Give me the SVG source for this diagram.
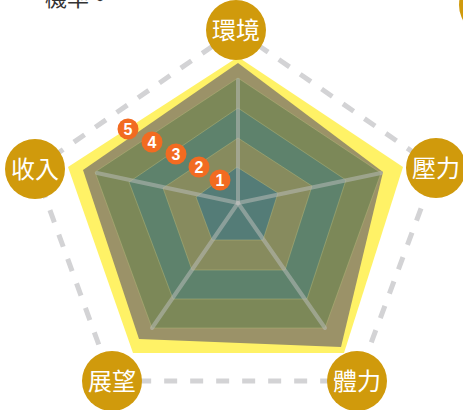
<svg xmlns="http://www.w3.org/2000/svg" width="463" height="410" viewBox="0 0 463 410">
<style>
.lbl{fill:#D09A0C}
.lt{fill:#fff;font-family:"Noto Sans CJK TC","Noto Sans CJK SC",sans-serif;font-size:24px;text-anchor:middle}
.badge{fill:#F26B21}
.bt{fill:#fff;font-family:"Liberation Sans",Arial,sans-serif;font-weight:bold;font-size:16px;text-anchor:middle}
.dash{fill:none;stroke:#D3D3D5;stroke-width:5;stroke-dasharray:13 13}
.grid{stroke:#B5B77A;stroke-width:0.8;stroke-opacity:0.6}
.spoke{stroke:#B8BCB8;stroke-width:4;stroke-opacity:0.55;stroke-linecap:round}
</style>
<rect width="463" height="410" fill="#fff"/>
<text x="45" y="6" font-family="Noto Sans CJK TC, Noto Sans CJK SC, sans-serif" font-size="22" fill="#333">機率。</text>
<circle class="lbl" cx="490" cy="5" r="31"/>
<g id="outline">
<polygon class="dash" points="236,30 436,168 357,381 112,381 35,169"/>
</g>
<g id="data">
<polygon fill="#FFF266" points="238,57 403,167 344,353 133,353 68,167"/>
<polygon fill="#9B9268" points="238,63 383,172 341,347 139,339 83,170"/>
</g>
<g id="grid">
<polygon class="grid" fill="#7C8858" points="238,78 381,173 325,328 152,328 95,172"/>
<polygon class="grid" fill="#5E826C" points="238,108 346,180 307,299 173,299 129,182"/>
<polygon class="grid" fill="#878B5E" points="238,138 312,186 285,270 192,270 163,188"/>
<polygon class="grid" fill="#547C77" points="237,167 278,193 263,240 212,240 196,197"/>
</g>
<g id="connectors">
<line class="spoke" x1="238" y1="203" x2="238" y2="80"/>
<line class="spoke" x1="238" y1="203" x2="381" y2="173"/>
<line class="spoke" x1="238" y1="203" x2="325" y2="328"/>
<line class="spoke" x1="238" y1="203" x2="152" y2="328"/>
<line class="spoke" x1="238" y1="203" x2="97" y2="173"/>
</g>
<g id="node-top"><circle class="lbl" cx="236" cy="30" r="30"/><text class="lt" x="236" y="38.5">環境</text></g>
<g id="node-right"><circle class="lbl" cx="436" cy="168" r="30"/><text class="lt" x="436" y="176.5">壓力</text></g>
<g id="node-br"><circle class="lbl" cx="357" cy="381" r="30"/><text class="lt" x="357" y="389.5">體力</text></g>
<g id="node-bl"><circle class="lbl" cx="112" cy="381" r="30"/><text class="lt" x="112" y="389.5">展望</text></g>
<g id="node-left"><circle class="lbl" cx="35" cy="169" r="30"/><text class="lt" x="35" y="177.5">收入</text></g>
<g id="badges">
<g id="b5"><circle class="badge" cx="128" cy="129" r="10.5"/><text class="bt" x="128" y="134.8">5</text></g>
<g id="b4"><circle class="badge" cx="152" cy="142" r="10.5"/><text class="bt" x="152" y="147.8">4</text></g>
<g id="b3"><circle class="badge" cx="176" cy="154" r="10.5"/><text class="bt" x="176" y="159.8">3</text></g>
<g id="b2"><circle class="badge" cx="199" cy="167" r="10.5"/><text class="bt" x="199" y="172.8">2</text></g>
<g id="b1"><circle class="badge" cx="220" cy="180" r="10.5"/><text class="bt" x="220" y="185.8">1</text></g>
</g>
</svg>
